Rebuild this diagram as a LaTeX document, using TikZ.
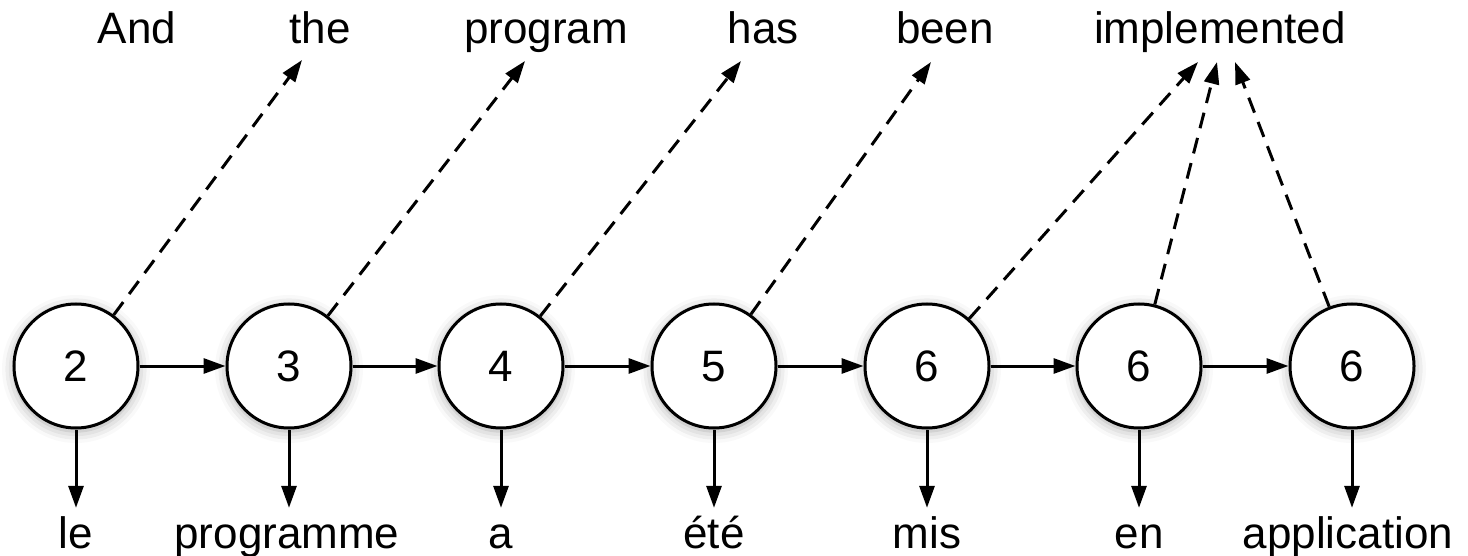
\documentclass[tikz,border=0pt]{standalone}
\usepackage{fontspec}
\setmainfont{Liberation Sans}
\usetikzlibrary{arrows.meta,shadows.blur}
\begin{document}
\begin{tikzpicture}[x=1pt,y=-1pt,
  state/.style={circle,draw,line width=3pt,fill=white,minimum size=124pt,inner sep=0pt,
    font=\fontsize{44}{50}\selectfont,text height=31.5pt,text depth=0pt,
    blur shadow={shadow xshift=0pt,shadow yshift=-3pt,shadow blur radius=12pt,shadow opacity=35}},
  word/.style={inner sep=0pt,anchor=base,font=\fontsize{44}{50}\selectfont},
  fword/.style={word,text height=32pt,text depth=10pt},
  link/.style={line width=3pt,-{Triangle[length=22pt,width=15pt]}},
  align/.style={line width=3pt,dash pattern=on 16pt off 10pt,-{Triangle[length=22pt,width=15pt]}}]
\useasboundingbox (0,0) rectangle (1468,556);
% states
\node[state] (s1) at (76,366) {2};
\node[state] (s2) at (289,366) {3};
\node[state] (s3) at (501,366) {4};
\node[state] (s4) at (714,366) {5};
\node[state] (s5) at (927,366) {6};
\node[state] (s6) at (1139,366) {6};
\node[state] (s7) at (1352,366) {6};
% English words
\node[word] (e1) at (137,44) {And};
\node[word] (e2) at (320,44) {the};
\node[word] (e3) at (546,44) {program};
\node[word] (e4) at (763,44) {has};
\node[word] (e5) at (945,44) {been};
\node[word] (e6) at (1220,44) {implemented};
% French words
\node[fword] (f1) at (76,548) {le};
\node[fword] (f2) at (287,548) {programme};
\node[fword] (f3) at (501,548) {a};
\node[fword] (f4) at (714,548) {été};
\node[fword] (f5) at (927,548) {mis};
\node[fword] (f6) at (1139,548) {en};
\node[fword] (f7) at (1348,548) {application};
% alignment tips
\coordinate (t1) at (302,60);
\coordinate (t2) at (525,61);
\coordinate (t3) at (741,61);
\coordinate (t4) at (931,62);
\coordinate (t5) at (1198,62);
\coordinate (t6) at (1217,62);
\coordinate (t7) at (1235,62);
% chain
\foreach \a/\b in {s1/s2,s2/s3,s3/s4,s4/s5,s5/s6,s6/s7}
  \draw[link] (\a) -- (\b);
% emissions
\foreach \i in {1,...,7}
  \draw[link,shorten >=8pt] (s\i) -- (s\i |- f\i.north);
% alignments
\foreach \i in {1,...,7}
  \draw[align] (s\i) -- (t\i);
\end{tikzpicture}
\end{document}
